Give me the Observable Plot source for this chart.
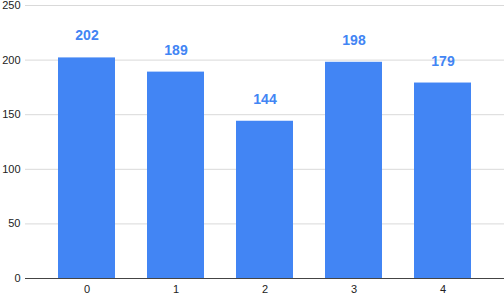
<!DOCTYPE html>
<html>
<head>
<meta charset="utf-8">
<script src="https://cdn.jsdelivr.net/npm/d3@7"></script>
<script src="https://cdn.jsdelivr.net/npm/@observablehq/plot@0.6"></script>
<style>
  html, body { margin: 0; padding: 0; background: #fff; }
  #chart svg { display: block; }
</style>
</head>
<body>
<div id="chart"></div>
<script>
const categories = ["0", "1", "2", "3", "4"];
const values = [202, 189, 144, 198, 179];
const yTicks = [0, 50, 100, 150, 200, 250];

const data = categories.map((c, i) => ({cat: c, value: values[i]}));

const chart = Plot.plot({
  width: 504,
  height: 296,
  marginLeft: 25,
  marginRight: 0,
  marginTop: 5,
  marginBottom: 18,
  style: {fontFamily: "Liberation Sans, Arial, sans-serif", fontSize: "11px", color: "#222", background: "#fff"},
  x: {domain: categories, padding: 0.36, label: null, tickSize: 0, tickPadding: 7},
  y: {domain: [0, 250], ticks: yTicks, label: null, tickSize: 0, tickPadding: 5},
  marks: [
    Plot.ruleY(yTicks.filter(d => d > 0), {stroke: "#d9d9d9", strokeWidth: 1}),
    Plot.barY(data, {x: "cat", y: "value", fill: "#4285F4"}),
    Plot.ruleY([0], {stroke: "#444", strokeWidth: 1.2}),
    Plot.text(data, {x: "cat", y: "value", text: d => String(d.value), dy: -22, fill: "#4285F4", fontWeight: "bold", fontSize: 14})
  ]
});
document.getElementById("chart").appendChild(chart);
</script>
</body>
</html>
